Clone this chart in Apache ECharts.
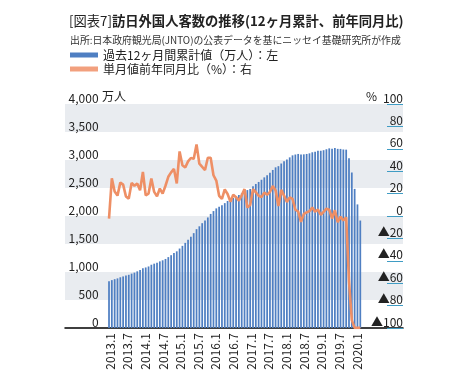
<!DOCTYPE html>
<html><head><meta charset="utf-8">
<script src="https://cdn.jsdelivr.net/npm/echarts@6/dist/echarts.min.js"></script>
<style>html,body{margin:0;padding:0;background:#fff}#c{width:464px;height:385px}</style>
</head><body><div id="c"></div>
<script>
// Categories: monthly, 2013.1 - 2020.6
const months = [
 '2013.1','2013.2','2013.3','2013.4','2013.5','2013.6','2013.7','2013.8','2013.9','2013.10','2013.11','2013.12',
 '2014.1','2014.2','2014.3','2014.4','2014.5','2014.6','2014.7','2014.8','2014.9','2014.10','2014.11','2014.12',
 '2015.1','2015.2','2015.3','2015.4','2015.5','2015.6','2015.7','2015.8','2015.9','2015.10','2015.11','2015.12',
 '2016.1','2016.2','2016.3','2016.4','2016.5','2016.6','2016.7','2016.8','2016.9','2016.10','2016.11','2016.12',
 '2017.1','2017.2','2017.3','2017.4','2017.5','2017.6','2017.7','2017.8','2017.9','2017.10','2017.11','2017.12',
 '2018.1','2018.2','2018.3','2018.4','2018.5','2018.6','2018.7','2018.8','2018.9','2018.10','2018.11','2018.12',
 '2019.1','2019.2','2019.3','2019.4','2019.5','2019.6','2019.7','2019.8','2019.9','2019.10','2019.11','2019.12',
 '2020.1','2020.2','2020.3','2020.4','2020.5','2020.6'
];
// Tick labels shown under the axis (every 6 months)
const tickLabels = ['2013.1','2013.7','2014.1','2014.7','2015.1','2015.7','2016.1','2016.7',
 '2017.1','2017.7','2018.1','2018.7','2019.1','2019.7','2020.1'];
// 過去12ヶ月間累計値（万人）
const cumulative = [
 834, 855, 872, 886, 906, 921, 937, 950, 971, 989, 1012, 1036,
 1065, 1081, 1099, 1130, 1149, 1165, 1190, 1209, 1233, 1266, 1300, 1341,
 1369, 1419, 1467, 1520, 1574, 1629, 1694, 1765, 1816, 1872, 1920, 1974,
 2037, 2088, 2136, 2167, 2192, 2230, 2268, 2291, 2322, 2353, 2376, 2404,
 2448, 2463, 2483, 2532, 2572, 2608, 2647, 2690, 2726, 2772, 2822, 2869,
 2890, 2937, 2977, 3009, 3047, 3083, 3098, 3108, 3096, 3101, 3108, 3119,
 3138, 3147, 3163, 3165, 3175, 3192, 3208, 3203, 3214, 3199, 3198, 3188,
 3185, 3033, 2777, 2484, 2207, 1919
];
// 単月値前年同月比（%）
const yoy = [
 -2.3, 33.6, 21.8, 18.2, 29.8, 28.0, 17.5, 15.5, 29.5, 27.0, 29.0, 23.0,
 39.3, 18.5, 20.0, 33.4, 21.5, 17.5, 24.5, 20.0, 27.0, 35.0, 39.0, 42.0,
 29.1, 57.6, 45.3, 43.3, 48.8, 51.8, 51.0, 63.9, 46.7, 43.8, 41.0, 52.0,
 52.0, 36.4, 31.6, 18.0, 15.2, 23.7, 19.7, 12.8, 19.0, 16.8, 13.8, 18.4,
 24.0, 7.6, 9.8, 23.9, 21.2, 18.1, 16.8, 20.9, 18.9, 21.5, 26.8, 22.9,
 9.0, 23.3, 18.2, 12.5, 16.6, 15.3, 5.6, 4.0, -5.3, 1.8, 3.2, 4.4,
 7.5, 3.8, 5.8, 0.9, 3.7, 6.5, 5.6, -2.2, 5.2, -5.5, -0.6, -4.0,
 -1.1, -58.3, -93.0, -99.9, -99.9, -99.9
];
const leftAxis = {min: 0, max: 4000, interval: 500};
const rightAxis = {min: -100, max: 100, interval: 20};
const seriesNames = ['過去12ヶ月間累計値（万人）：左', '単月値前年同月比（%）：右'];

const FONT = '"Noto Sans CJK JP", "Noto Sans", sans-serif';
const chart = echarts.init(document.getElementById('c'));
chart.setOption({
  animation: false,
  textStyle: {fontFamily: FONT},
  title: [
    {text: '{r|[図表7]}{b|訪日外国人客数の推移(12ヶ月累計、前年同月比)}', left: 64, top: 9,
     textStyle: {rich: {
       r: {fontSize: 13.3, fontWeight: 'normal', color: '#222', fontFamily: FONT},
       b: {fontSize: 13.3, fontWeight: 'bold', color: '#222', fontFamily: FONT}}}},
    {text: '出所:日本政府観光局(JNTO)の公表データを基にニッセイ基礎研究所が作成', left: 65, top: 30,
     textStyle: {fontSize: 9.9, fontWeight: 'normal', color: '#333', fontFamily: FONT}}
  ],
  legend: {
    left: 65, top: 44, orient: 'vertical', itemWidth: 28, itemHeight: 5, itemGap: 2,
    icon: 'rect', textStyle: {fontSize: 12, color: '#222', fontFamily: FONT},
    data: seriesNames
  },
  grid: [
    {left: 65, right: 61, top: 104, bottom: 57},
    {left: 107.6, right: 102.3, top: 104, bottom: 57},
    {left: 101.2, right: 98.2, top: 104, bottom: 57}
  ],
  xAxis: [
    {gridIndex: 0, type: 'value', min: 0, max: 1,
     axisLine: {show: true, onZero: false, lineStyle: {color: '#000', width: 1.5}},
     axisTick: {show: false}, axisLabel: {show: false}, splitLine: {show: false}},
    {gridIndex: 1, type: 'category', data: months, boundaryGap: true,
     axisLine: {show: false}, axisTick: {show: false}, axisLabel: {show: false}},
    {gridIndex: 2, type: 'category', data: tickLabels, boundaryGap: true,
     axisLine: {show: false}, axisTick: {show: false},
     axisLabel: {interval: 0, rotate: 90, fontSize: 12, color: '#222', margin: 5, fontFamily: FONT}}
  ],
  yAxis: [
    {gridIndex: 0, type: 'value', min: leftAxis.min, max: leftAxis.max, interval: leftAxis.interval,
     axisLine: {show: false}, axisTick: {show: false}, axisLabel: {show: false},
     splitLine: {show: false},
     splitArea: {show: true, areaStyle: {color: ['rgba(255,255,255,0)', '#e9ecf0']}}},
    {gridIndex: 1, type: 'value', position: 'left',
     min: leftAxis.min, max: leftAxis.max, interval: leftAxis.interval,
     axisLine: {show: false}, axisTick: {show: false}, splitLine: {show: false},
     axisLabel: {margin: 9, fontSize: 12, color: '#222', verticalAlign: 'bottom', fontFamily: FONT,
       formatter: v => v.toLocaleString('en-US')}},
    {gridIndex: 1, type: 'value', position: 'right', offset: 41.3,
     min: rightAxis.min, max: rightAxis.max, interval: rightAxis.interval,
     axisLine: {show: false},
     axisTick: {show: true, inside: true, length: 16, lineStyle: {color: '#3f9cc4', width: 1}},
     splitLine: {show: false},
     axisLabel: {inside: true, margin: 0, fontSize: 12, color: '#222', verticalAlign: 'bottom', fontFamily: FONT,
       formatter: v => v < 0 ? '▲' + (-v) : String(v)}},
    {gridIndex: 2, type: 'value', show: false, min: 0, max: 1}
  ],
  series: [
    {name: seriesNames[0], type: 'bar', xAxisIndex: 1, yAxisIndex: 1, data: cumulative,
     barWidth: '62%', itemStyle: {color: '#4f7fc2'}},
    {name: seriesNames[1], type: 'line', xAxisIndex: 1, yAxisIndex: 2, data: yoy,
     symbol: 'none', lineStyle: {color: '#ee8f65', width: 2.6}, itemStyle: {color: '#f2a07e'}, z: 5}
  ],
  graphic: [
    {type: 'text', left: 102, top: 90, style: {text: '万人', fontSize: 12, fill: '#222', fontFamily: FONT}},
    {type: 'text', left: 366, top: 90, style: {text: '%', fontSize: 12, fill: '#222', fontFamily: FONT}}
  ]
});
</script>
</body></html>
